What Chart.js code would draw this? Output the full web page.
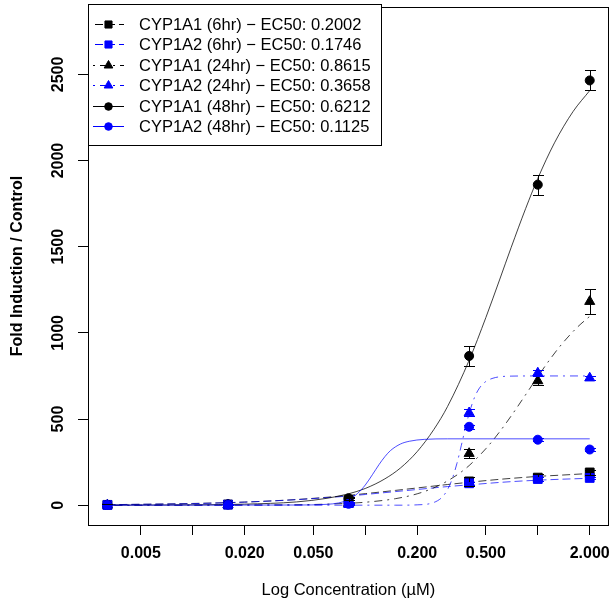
<!DOCTYPE html>
<html>
<head>
<meta charset="utf-8">
<script src="https://cdn.jsdelivr.net/npm/chart.js@4.4.0/dist/chart.umd.min.js"></script>
<style>
  html, body { margin: 0; padding: 0; background: #fff; }
  #wrap { width: 616px; height: 610px; }
</style>
</head>
<body>
<div id="wrap"><canvas id="myChart" width="616" height="610"></canvas></div>
<script>
// measured concentrations (uM)
const conc = [0.0032, 0.016, 0.08, 0.4, 1, 2];

// means and error bars
const a1_6h = [2, 4, 30, 138, 160, 190];
const a1_6hErr = [3, 3, 10, 25, 20, 12];
const a2_6h = [1, 3, 12, 127, 152, 158];
const a2_6hErr = [2, 2, 5, 10, 10, 8];
const a1_24h = [1, 2, 10, 300, 722, 1182];
const a1_24hErr = [2, 2, 5, 28, 25, 75];
const a2_24h = [1, 2, 5, 536, 767, 738];
const a2_24hErr = [2, 2, 3, 20, 20, 10];
const a1_48h = [2, 5, 40, 866, 1860, 2465];
const a1_48hErr = [2, 3, 10, 58, 58, 58];
const a2_48h = [1, 3, 8, 455, 380, 323];
const a2_48hErr = [2, 2, 3, 10, 8, 8];

// fitted curves
const fit6hConc = [0.0032, 0.006, 0.01, 0.02, 0.04, 0.06, 0.08, 0.1, 0.15, 0.2, 0.3, 0.4, 0.6, 0.8, 1.0, 1.4, 2.0];
const a1_6hFit = [3, 6, 10, 18, 33, 46, 57, 67, 86, 100, 120, 133, 150, 160, 167, 175, 184];
const a2_6hFit = [3, 6, 9, 18, 32, 44, 53, 62, 79, 91, 108, 118, 132, 140, 145, 151, 156];

const a1_24hFitConc = [0.0032, 0.01, 0.02, 0.05, 0.08, 0.1, 0.15, 0.2, 0.25, 0.3, 0.35, 0.4, 0.5, 0.6, 0.7, 0.85, 1.0, 1.2, 1.4, 1.7, 2.0];
const a1_24hFit = [0, 0, 1, 4, 11, 17, 38, 66, 101, 141, 184, 230, 328, 425, 517, 641, 746, 858, 943, 1034, 1096];

const a2_24hFitConc = [0.0032, 0.05, 0.1, 0.15, 0.2, 0.25, 0.28, 0.3, 0.32, 0.34, 0.36, 0.38, 0.4, 0.43, 0.46, 0.5, 0.55, 0.6, 0.7, 1.0, 2.0];
const a2_24hFit = [0, 0, 0, 0, 2, 16, 48, 91, 156, 243, 345, 445, 532, 626, 681, 718, 737, 745, 749, 750, 750];

const a1_48hFitConc = [0.0032, 0.01, 0.02, 0.04, 0.06, 0.08, 0.1, 0.13, 0.16, 0.2, 0.25, 0.3, 0.4, 0.5, 0.6, 0.7, 0.85, 1.0, 1.25, 1.6, 2.0];
const a1_48hFit = [0, 2, 6, 19, 40, 66, 97, 153, 216, 311, 440, 573, 841, 1089, 1307, 1494, 1721, 1896, 2103, 2284, 2406];

const a2_48hFitConc = [0.0032, 0.04, 0.06, 0.07, 0.08, 0.09, 0.1, 0.11, 0.12, 0.13, 0.14, 0.16, 0.18, 0.22, 0.3, 2.0];
const a2_48hFit = [0, 1, 5, 13, 32, 67, 117, 177, 235, 282, 317, 355, 371, 382, 385, 385];

const legendLabels = [
  "CYP1A1 (6hr) \u2212 EC50: 0.2002",
  "CYP1A2 (6hr) \u2212 EC50: 0.1746",
  "CYP1A1 (24hr) \u2212 EC50: 0.8615",
  "CYP1A2 (24hr) \u2212 EC50: 0.3658",
  "CYP1A1 (48hr) \u2212 EC50: 0.6212",
  "CYP1A2 (48hr) \u2212 EC50: 0.1125",
];

const xTickValues = [0.005, 0.01, 0.02, 0.05, 0.1, 0.2, 0.5, 1, 2];
const xTickLabels = ["0.005", "", "0.020", "0.050", "", "0.200", "0.500", "", "2.000"];
const yTickValues = [0, 500, 1000, 1500, 2000, 2500];
const yTickLabels = ["0", "500", "1000", "1500", "2000", "2500"];

const xTitle = "Log Concentration (\u00b5M)";
const yTitle = "Fold Induction / Control";

const BLACK = "#000000";
const BLUE = "#0000ff";
const DASH = [8, 4];
const DOTDASH = [2, 5, 8, 5];
const FONT = '"Liberation Sans", Arial, Helvetica, sans-serif';

const series = [
  { label: legendLabels[0], color: BLACK, line: "rgba(0,0,0,0.75)", style: "rect", r: 6.2, lr: 5, dash: DASH, pts: a1_6h, err: a1_6hErr, fx: fit6hConc, fy: a1_6hFit },
  { label: legendLabels[1], color: BLUE, line: "rgba(0,0,255,0.7)", style: "rect", r: 6.2, lr: 5, dash: DASH, pts: a2_6h, err: a2_6hErr, fx: fit6hConc, fy: a2_6hFit },
  { label: legendLabels[2], color: BLACK, line: "rgba(0,0,0,0.75)", style: "triangle", r: 5.8, lr: 5, dash: DOTDASH, pts: a1_24h, err: a1_24hErr, fx: a1_24hFitConc, fy: a1_24hFit },
  { label: legendLabels[3], color: BLUE, line: "rgba(0,0,255,0.7)", style: "triangle", r: 5.8, lr: 5, dash: DOTDASH, pts: a2_24h, err: a2_24hErr, fx: a2_24hFitConc, fy: a2_24hFit },
  { label: legendLabels[4], color: BLACK, line: "rgba(0,0,0,0.75)", style: "circle", r: 4.5, lr: 3.8, dash: [], pts: a1_48h, err: a1_48hErr, fx: a1_48hFitConc, fy: a1_48hFit },
  { label: legendLabels[5], color: BLUE, line: "rgba(0,0,255,0.7)", style: "circle", r: 4.5, lr: 3.8, dash: [], pts: a2_48h, err: a2_48hErr, fx: a2_48hFitConc, fy: a2_48hFit },
];

const datasets = [];
series.forEach((s, i) => {
  datasets.push({
    label: s.label + " fit",
    data: s.fx.map((x, j) => ({ x: x, y: s.fy[j] })),
    showLine: true,
    borderColor: s.line,
    borderWidth: 1,
    borderDash: s.dash,
    pointRadius: 0,
    cubicInterpolationMode: "monotone",
    order: 20 - i,
  });
  datasets.push({
    label: s.label,
    data: conc.map((x, j) => ({ x: x, y: s.pts[j] })),
    showLine: false,
    pointStyle: s.style,
    pointRadius: s.r,
    backgroundColor: s.color,
    borderColor: s.color,
    borderWidth: 1,
    order: 10 - i,
  });
});

const extras = {
  id: "extras",
  afterDatasetsDraw(chart) {
    const ctx = chart.ctx, xs = chart.scales.x, ys = chart.scales.y;
    ctx.save();
    ctx.lineWidth = 1;
    series.forEach(s => {
      ctx.strokeStyle = s.color;
      s.pts.forEach((v, i) => {
        const e = s.err[i];
        const px = Math.round(xs.getPixelForValue(conc[i])) + 0.5;
        const y1 = Math.round(ys.getPixelForValue(v - e)) + 0.5;
        const y2 = Math.round(ys.getPixelForValue(v + e)) + 0.5;
        ctx.beginPath();
        ctx.moveTo(px, y1); ctx.lineTo(px, y2);
        ctx.moveTo(px - 5.5, y1); ctx.lineTo(px + 5.5, y1);
        ctx.moveTo(px - 5.5, y2); ctx.lineTo(px + 5.5, y2);
        ctx.stroke();
      });
    });
    ctx.restore();
  },
  afterDraw(chart) {
    const ctx = chart.ctx, a = chart.chartArea, xs = chart.scales.x, ys = chart.scales.y;
    ctx.save();
    // box round the plot
    ctx.strokeStyle = "#000";
    ctx.lineWidth = 1;
    ctx.strokeRect(Math.round(a.left) + 0.5, Math.round(a.top) + 0.5, Math.round(a.right - a.left) - 1, Math.round(a.bottom - a.top));

    // tick labels
    ctx.fillStyle = "#000";
    ctx.font = "bold 16px " + FONT;
    ctx.textAlign = "center";
    ctx.textBaseline = "middle";
    xTickValues.forEach((v, i) => {
      if (xTickLabels[i]) ctx.fillText(xTickLabels[i], xs.getPixelForValue(v), 554);
    });
    yTickValues.forEach((v, i) => {
      ctx.save();
      ctx.translate(59, ys.getPixelForValue(v));
      ctx.rotate(-Math.PI / 2);
      ctx.fillText(yTickLabels[i], 0, 0);
      ctx.restore();
    });

    // axis titles
    ctx.font = "16.5px " + FONT;
    ctx.fillText(xTitle, (a.left + a.right) / 2, 590);
    ctx.save();
    ctx.font = "bold 16px " + FONT;
    ctx.translate(18, (a.top + a.bottom) / 2);
    ctx.rotate(-Math.PI / 2);
    ctx.fillText(yTitle, 0, 0);
    ctx.restore();

    // legend
    ctx.fillStyle = "#fff";
    ctx.fillRect(88.5, 4.5, 293, 141);
    ctx.strokeStyle = "#000";
    ctx.strokeRect(88.5, 4.5, 293, 141);
    ctx.font = "16.5px " + FONT;
    ctx.textAlign = "left";
    series.forEach((s, i) => {
      const y = Math.round(24 + i * 20.4) + 0.5;
      ctx.strokeStyle = s.color;
      ctx.fillStyle = s.color;
      ctx.setLineDash(s.dash);
      ctx.lineDashOffset = s.style === "rect" ? -2 : 0;
      ctx.beginPath();
      ctx.moveTo(93, y); ctx.lineTo(124, y);
      ctx.stroke();
      ctx.setLineDash([]);
      Chart.helpers.drawPoint(ctx, { pointStyle: s.style, radius: s.lr, borderWidth: 1, rotation: 0 }, 108.5, y);
      ctx.fillStyle = "#000";
      ctx.fillText(s.label, 139, y + 1);
    });
    ctx.restore();
  },
};

const ctx = document.getElementById("myChart");
const chart = new Chart(ctx, {
  type: "scatter",
  data: { datasets: datasets },
  options: {
    responsive: false,
    devicePixelRatio: 1,
    animation: false,
    layout: { padding: { top: 4, right: 5, left: 0, bottom: 0 } },
    plugins: {
      legend: { display: false },
      tooltip: { enabled: false },
    },
    scales: {
      x: {
        type: "logarithmic",
        min: 0.00247,
        max: 2.58,
        afterBuildTicks: s => { s.ticks = xTickValues.map(v => ({ value: v })); },
        afterFit: s => { s.height = 85; },
        ticks: { display: false },
        grid: { display: true, drawOnChartArea: false, drawTicks: true, tickLength: 10, color: "#000", lineWidth: 1 },
        border: { display: false },
      },
      y: {
        type: "linear",
        min: -115,
        max: 2890,
        afterBuildTicks: s => { s.ticks = yTickValues.map(v => ({ value: v })); },
        afterFit: s => { s.width = 88; },
        ticks: { display: false },
        grid: { display: true, drawOnChartArea: false, drawTicks: true, tickLength: 10, color: "#000", lineWidth: 1 },
        border: { display: false },
      },
    },
  },
  plugins: [extras],
});
</script>
</body>
</html>
